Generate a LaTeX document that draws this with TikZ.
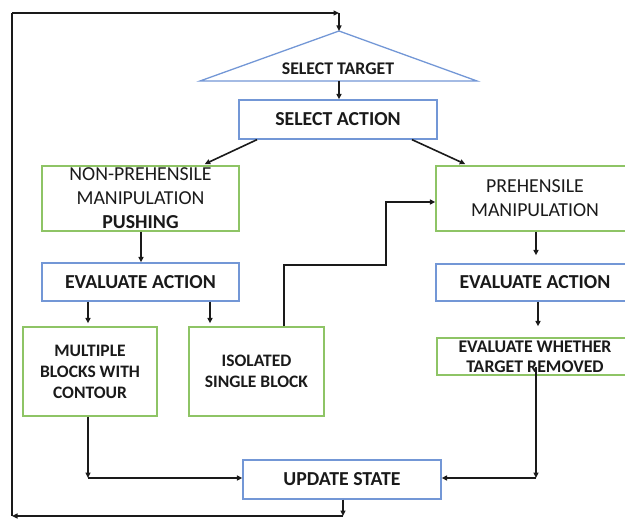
\documentclass[tikz,border=0pt]{standalone}
\usepackage{fontspec}
\setmainfont{Carlito}
\usetikzlibrary{arrows.meta,calc}
\definecolor{boxblue}{HTML}{7397D6}
\definecolor{boxgreen}{HTML}{8EC465}
\definecolor{ink}{HTML}{1A1A1A}
\tikzset{
  x=1pt, y=-1pt,
  base/.style={draw, line width=1.3pt, rectangle, inner sep=0pt, align=center, text=ink},
  bluebox/.style={base, draw=boxblue},
  greenbox/.style={base, draw=boxgreen},
  bigtxt/.style={font=\fontsize{19.8}{24}\selectfont},
  bigbold/.style={font=\fontsize{19.8}{24}\selectfont\bfseries},
  smallbold/.style={font=\fontsize{17.5}{21}\selectfont\bfseries},
  arr/.style={draw=ink, line width=1.6pt, -{Triangle[length=5.5pt,width=5pt]}},
  ln/.style={draw=ink, line width=1.6pt},
}
\begin{document}
\begin{tikzpicture}
\useasboundingbox (0,0) rectangle (625,519);
\clip (0,0) rectangle (625,519);

% select target triangle
\coordinate (apex) at (339,31);
\coordinate (tl) at (200,81);
\coordinate (tr) at (477,81);
\draw[boxblue, line width=1.3pt] (tl) -- (apex) -- (tr) -- cycle;
\node[text=ink, font=\fontsize{17.8}{21}\selectfont\bfseries] (tgt) at (338,69) {SELECT TARGET};
\coordinate (tbase) at (339,81);

% boxes
\node[bluebox, bigbold, minimum width=198pt, minimum height=39pt] (sa) at (338,119.5) {SELECT ACTION};
\node[greenbox, bigtxt, minimum width=197pt, minimum height=65pt] (np) at (140.5,198.5)
  {NON-PREHENSILE\\MANIPULATION\\\textbf{PUSHING}};
\node[bluebox, bigbold, minimum width=197pt, minimum height=38pt] (evl) at (140.5,282) {EVALUATE ACTION};
\node[greenbox, smallbold, minimum width=134pt, minimum height=89pt] (mul) at (90,371.5)
  {MULTIPLE\\BLOCKS WITH\\CONTOUR};
\node[greenbox, smallbold, minimum width=135pt, minimum height=89pt] (iso) at (256.5,371.5)
  {ISOLATED\\SINGLE BLOCK};
\node[greenbox, bigtxt, minimum width=198pt, minimum height=65pt] (pre) at (535,198.5)
  {PREHENSILE\\MANIPULATION};
\node[bluebox, bigbold, minimum width=198pt, minimum height=37pt] (evr) at (535,282.5) {EVALUATE ACTION};
\node[greenbox, font=\fontsize{17.8}{20}\selectfont\bfseries, minimum width=196pt, minimum height=37pt] (wh) at (535,356.5)
  {EVALUATE WHETHER\\TARGET REMOVED};
\node[bluebox, bigbold, minimum width=198pt, minimum height=39pt] (upd) at (342,479.5) {UPDATE STATE};

% guide coordinates for connector columns and rows
\coordinate (xa) at (257,0);
\coordinate (xb) at (202,0);
\coordinate (xc) at (412,0);
\coordinate (xd) at (468,0);
\coordinate (xe) at (141,0);
\coordinate (xf) at (88,0);
\coordinate (xg) at (210,0);
\coordinate (xh) at (284,0);
\coordinate (xi) at (536,0);
\coordinate (xj) at (538,0);
\coordinate (yp) at (0,202);

% loop coordinates
\coordinate (lb) at (343,516);
\coordinate (lbl) at (12,516);
\coordinate (ltl) at (12,13);
\coordinate (ltr) at (339,13);

% connectors
\draw[arr] (tbase) -- (sa.north -| tbase);
\draw[arr, shorten >=3pt] (sa.south -| xa) -- (np.north -| xb);
\draw[arr, shorten >=3pt] (sa.south -| xc) -- (pre.north -| xd);
\draw[arr] (np.south -| xe) -- (evl.north -| xe);
\draw[arr, shorten >=3pt] (evl.south -| xf) -- (mul.north -| xf);
\draw[arr, shorten >=3pt] (evl.south -| xg) -- (iso.north -| xg);
\draw[arr] (iso.north -| xh) -- (284,265) -- (386,265) -- (386,202) -- (pre.west |- yp);
\draw[arr, shorten >=8pt] (pre.south -| xi) -- (evr.north -| xi);
\draw[arr, shorten >=11pt] (evr.south -| xj) -- (wh.north -| xj);

\coordinate (rc) at (536,478);
\coordinate (lc) at (88,478);
\coordinate (rtop) at (536,367);
\draw[arr] (rtop) -- (rc);
\draw[arr] (rc) -- (upd.east |- rc);
\draw[arr] (mul.south -| lc) -- (lc);
\draw[arr] (lc) -- (upd.west |- lc);

\draw[arr] (upd.south -| lb) -- (lb);
\draw[arr] (lb) -- (lbl);
\draw[ln] (lbl) -- (ltl);
\draw[arr] (ltl) -- (ltr);
\draw[arr] (ltr) -- (apex);
\end{tikzpicture}
\end{document}
